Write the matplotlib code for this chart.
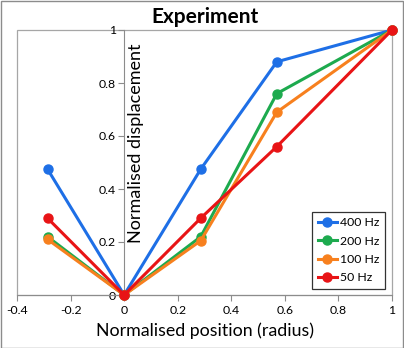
import matplotlib
matplotlib.use("Agg")
import matplotlib.pyplot as plt
from matplotlib.patches import Rectangle

x_pos = [-0.286, 0, 0.286, 0.57, 1]
series_names = ["400 Hz", "200 Hz", "100 Hz", "50 Hz"]
y_400 = [0.475, 0, 0.475, 0.88, 1]
y_200 = [0.22, 0, 0.22, 0.76, 1]
y_100 = [0.21, 0, 0.205, 0.69, 1]
y_50 = [0.29, 0, 0.29, 0.56, 1]
colors = ["#1E6FE6", "#1DAA4E", "#F7801E", "#E81416"]
x_ticks = [-0.4, -0.2, 0, 0.2, 0.4, 0.6, 0.8, 1]
y_ticks = [0, 0.2, 0.4, 0.6, 0.8, 1]

plt.rcParams['font.family'] = ['Lato', 'DejaVu Sans']

W, H = 404, 348
fig = plt.figure(figsize=(W / 100, H / 100), dpi=100)
ax = fig.add_axes([17 / W, 1 - 295 / H, (392 - 17) / W, (295 - 30) / H])

for ys, name, c in zip([y_400, y_200, y_100, y_50], series_names, colors):
    ax.plot(x_pos, ys, color=c, lw=2.2, marker='o', ms=6.5, label=name,
            clip_on=False, zorder=3)

ax.set_xlim(-0.4, 1)
ax.set_ylim(0, 1)
ax.set_xticks(x_ticks)
ax.set_xticklabels(["-0.4", "-0.2", "0", "0.2", "0.4", "0.6", "0.8", "1"])
ax.set_yticks(y_ticks)
ax.set_yticklabels(["0", "0.2", "0.4", "0.6", "0.8", "1"])

for s in ['top', 'right']:
    ax.spines[s].set_visible(False)
ax.spines['left'].set_position(('data', 0))
ax.spines['left'].set_color('#8c8c8c')
ax.spines['bottom'].set_color('#8c8c8c')
ax.tick_params(axis='both', direction='out', length=4, color='#8c8c8c',
               labelsize=8.8, labelcolor='black')
ax.tick_params(axis='y', pad=2)

# plot area border
ax.add_patch(Rectangle((0, 0), 1, 1, transform=ax.transAxes, fill=False,
                       edgecolor='#a6a6a6', lw=0.9, zorder=0, clip_on=False))

ax.set_xlabel("Normalised position (radius)", fontsize=12.8, labelpad=4)
ax.text(0.045, 0.95, "Normalised displacement", rotation=90, fontsize=13,
        ha='center', va='top', transform=ax.get_xaxis_transform())
ax.set_title("Experiment", fontsize=15, fontweight='bold', pad=5)

leg = ax.legend(loc='lower right', bbox_to_anchor=(0.99, 0.01), fontsize=8.8,
                frameon=True, fancybox=False, edgecolor='black',
                handlelength=1.6, handletextpad=0.2, borderpad=0.45,
                labelspacing=0.6, borderaxespad=0.3)
leg.get_frame().set_linewidth(0.9)

# figure border
fig.add_artist(Rectangle((0.5 / W, 0.5 / H), 1 - 1.5 / W, 1 - 1.5 / H,
                         transform=fig.transFigure, fill=False,
                         edgecolor='#8c8c8c', lw=1))

fig.savefig("out.png", dpi=100)
